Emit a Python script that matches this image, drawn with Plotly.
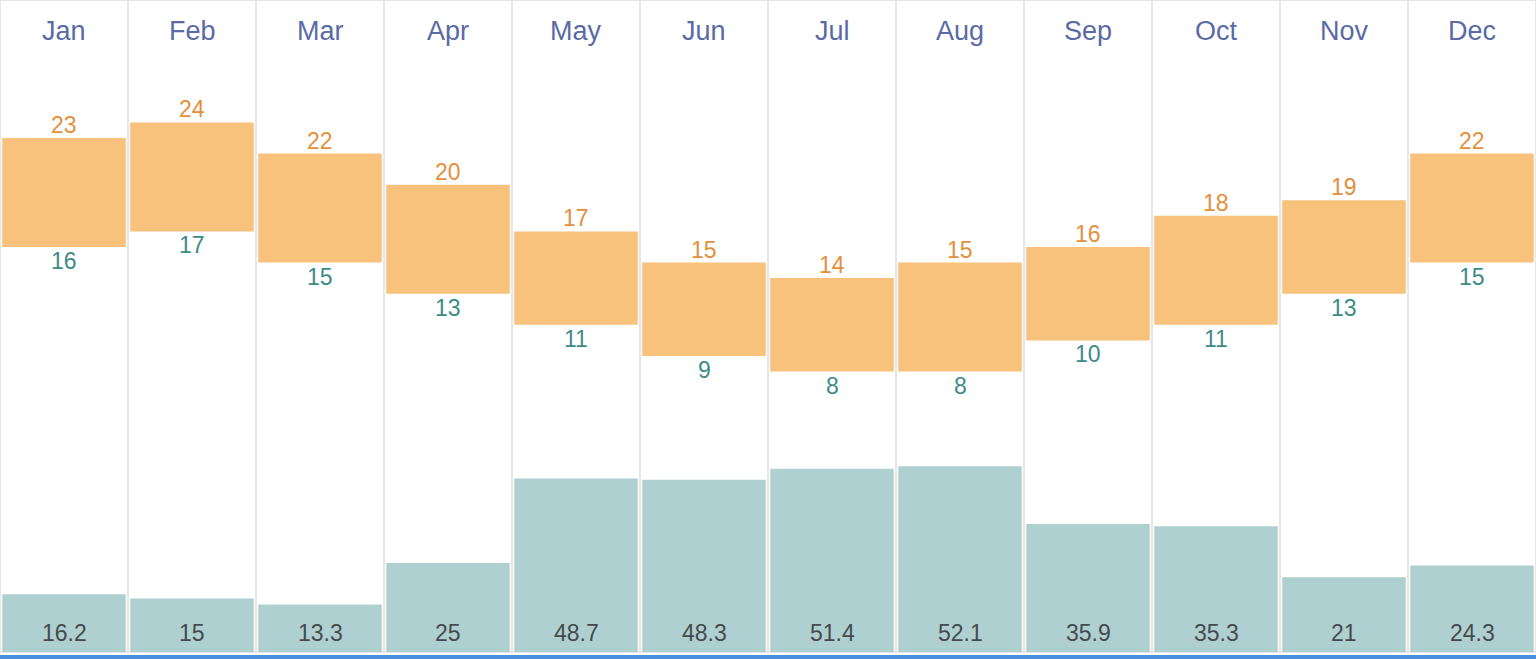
import plotly.graph_objects as go

# Monatsdaten
months = ['Jan', 'Feb', 'Mar', 'Apr', 'May', 'Jun', 'Jul', 'Aug', 'Sep', 'Oct', 'Nov', 'Dec']
temp_high = [23, 24, 22, 20, 17, 15, 14, 15, 16, 18, 19, 22]
temp_low = [16, 17, 15, 13, 11, 9, 8, 8, 10, 11, 13, 15]
rain_mm = [16.2, 15, 13.3, 25, 48.7, 48.3, 51.4, 52.1, 35.9, 35.3, 21, 24.3]

FONT = 'Liberation Sans, Arial, sans-serif'
orange_bar = '#f8c27c'
orange_txt = '#e3903a'
teal_txt = '#3d8b88'
rain_bar = '#afd0d1'
month_col = '#5a6aa6'

fig = go.Figure()

# Niederschlag (untere Balken)
fig.add_trace(go.Bar(
    x=months, y=rain_mm, yaxis='y2',
    marker=dict(color=rain_bar, line=dict(width=0)),
    hoverinfo='x+y', showlegend=False,
))

# Temperaturspanne (schwebende Balken)
fig.add_trace(go.Bar(
    x=months, y=[h - l for h, l in zip(temp_high, temp_low)], base=temp_low,
    marker=dict(color=orange_bar, line=dict(width=0)),
    hoverinfo='skip', showlegend=False,
))

# Beschriftungen: Max über, Min unter den Balken, Regen am Fuß
for m, hi, lo, r in zip(months, temp_high, temp_low, rain_mm):
    fig.add_annotation(x=m, y=hi, yref='y', text=str(hi), showarrow=False,
                       yanchor='middle', yshift=13,
                       font=dict(family=FONT, size=23, color=orange_txt))
    fig.add_annotation(x=m, y=lo, yref='y', text=str(lo), showarrow=False,
                       yanchor='middle', yshift=-14,
                       font=dict(family=FONT, size=23, color=teal_txt))
    fig.add_annotation(x=m, y=0, yref='y2', text=f'{r:g}', showarrow=False,
                       yanchor='middle', yshift=19,
                       font=dict(family=FONT, size=23, color='#464a4d'))

# Monatsnamen oben in der Grafik
for m in months:
    fig.add_annotation(x=m, y=1, xref='x', yref='paper', text=m, showarrow=False,
                       yanchor='top', yshift=-14,
                       font=dict(family=FONT, size=27, color=month_col))

# Rahmen und blauer Streifen unten
fig.add_shape(type='rect', xref='paper', yref='paper', x0=0, x1=1, y0=0, y1=1,
              line=dict(color='#e6e6e6', width=2), layer='below')
fig.add_shape(type='rect', xref='paper', yref='paper', x0=0, x1=1,
              y0=-7 / 652, y1=-3 / 652,
              line=dict(width=0), fillcolor='#4a8fdd')

fig.update_layout(
    width=1536, height=659,
    margin=dict(l=0, r=0, t=0, b=7),
    paper_bgcolor='white', plot_bgcolor='white',
    barmode='overlay', bargap=0.035,
    xaxis=dict(type='category', range=[-0.5, 11.5], showticklabels=False,
               showgrid=True, gridcolor='#e6e6e6', gridwidth=2,
               tickson='boundaries', ticks='', zeroline=False, fixedrange=True),
    yaxis=dict(range=[-10.01, 31.86], visible=False, showgrid=False, zeroline=False),
    yaxis2=dict(range=[0, 182.9], overlaying='y', visible=False,
                showgrid=False, zeroline=False),
)

# Seitenrand entfernen, damit die Grafik das Fenster genau ausfüllt
fig.write_html('out.html', config={'displayModeBar': False},
               post_script="document.body.style.margin='0';")
